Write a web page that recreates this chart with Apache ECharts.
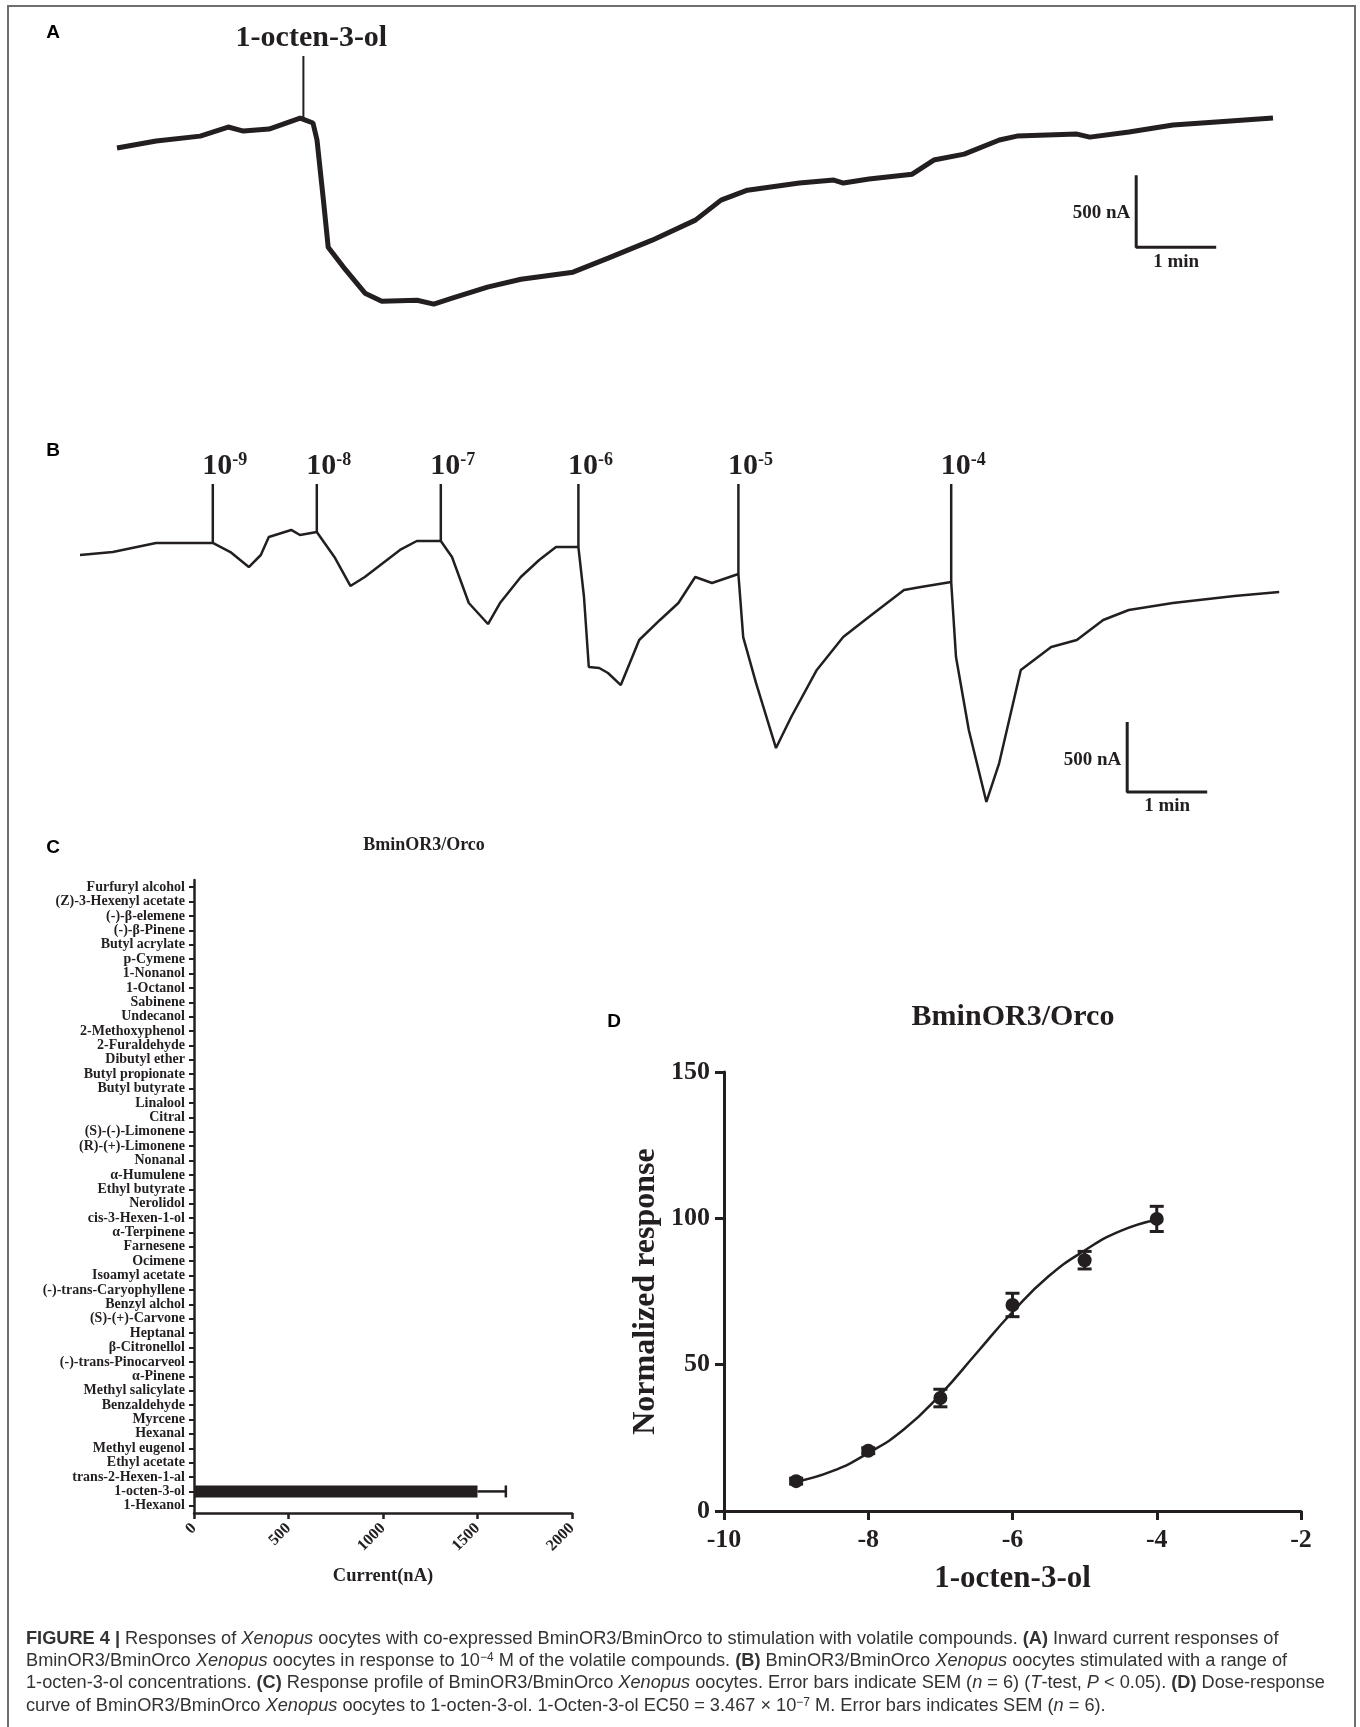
<!DOCTYPE html>
<html>
<head>
<meta charset="utf-8">
<title>Figure 4</title>
<script src="https://cdn.jsdelivr.net/npm/echarts@6/dist/echarts.min.js"></script>
<style>
  html, body { margin: 0; padding: 0; background: #fff; }
  #main { width: 1360px; height: 1727px; }
</style>
</head>
<body>
<div id="main"></div>
<script>
// ---- data ----
// A: trace (time in min, current in nA relative to start)
var timeA = [0, 0.49, 1.04, 1.39, 1.58, 1.90, 2.29, 2.45, 2.50, 2.58, 2.64, 2.83, 3.10, 3.31, 3.75, 3.96, 4.19, 4.63, 5.05, 5.70, 6.14, 6.69, 7.23, 7.55, 7.88, 8.53, 8.96, 9.08, 9.40, 9.94, 10.21, 10.59, 11.03, 11.25, 12.00, 12.16, 12.65, 13.20, 13.74, 14.45];
var currentA = [0, 49, 83, 146, 118, 132, 208, 174, 56, -361, -688, -826, -1007, -1063, -1056, -1083, -1042, -965, -910, -861, -764, -639, -500, -361, -292, -243, -222, -243, -215, -181, -83, -42, 56, 83, 97, 76, 111, 160, 181, 208];
var stimA = [2.33, 208, 639];

// B: trace with a range of concentrations
var timeB = [0, 0.41, 0.95, 1.66, 1.88, 2.11, 2.26, 2.36, 2.64, 2.75, 2.96, 3.18, 3.38, 3.56, 4.00, 4.21, 4.51, 4.65, 4.86, 5.10, 5.25, 5.51, 5.74, 5.95, 6.23, 6.30, 6.36, 6.49, 6.60, 6.76, 6.99, 7.25, 7.48, 7.69, 7.90, 8.23, 8.29, 8.45, 8.70, 8.89, 9.21, 9.54, 9.86, 10.30, 10.51, 10.89, 10.95, 11.11, 11.33, 11.49, 11.76, 12.14, 12.46, 12.79, 13.11, 13.66, 14.43, 14.99];
var currentB = [0, 21, 86, 86, 21, -86, 0, 129, 179, 143, 164, -14, -221, -157, 36, 100, 100, -14, -343, -493, -343, -157, -36, 57, 57, -300, -800, -807, -843, -929, -607, -464, -343, -157, -200, -136, -586, -914, -1379, -1157, -821, -586, -443, -250, -229, -193, -729, -1250, -1764, -1486, -821, -657, -607, -464, -393, -343, -293, -264];
var stimTimesB = [1.66, 2.96, 4.51, 6.23, 8.23, 10.89];
var stimBaseB = [86, 164, 100, 57, -136, -193];
var stimTopB = 507;
var stimExpB = ['-9', '-8', '-7', '-6', '-5', '-4'];

// C: response profile
var compounds = ['Furfuryl alcohol', '(Z)-3-Hexenyl acetate', '(-)-β-elemene', '(-)-β-Pinene', 'Butyl acrylate', 'p-Cymene', '1-Nonanol', '1-Octanol', 'Sabinene', 'Undecanol', '2-Methoxyphenol', '2-Furaldehyde', 'Dibutyl ether', 'Butyl propionate', 'Butyl butyrate', 'Linalool', 'Citral', '(S)-(-)-Limonene', '(R)-(+)-Limonene', 'Nonanal', 'α-Humulene', 'Ethyl butyrate', 'Nerolidol', 'cis-3-Hexen-1-ol', 'α-Terpinene', 'Farnesene', 'Ocimene', 'Isoamyl acetate', '(-)-trans-Caryophyllene', 'Benzyl alchol', '(S)-(+)-Carvone', 'Heptanal', 'β-Citronellol', '(-)-trans-Pinocarveol', 'α-Pinene', 'Methyl salicylate', 'Benzaldehyde', 'Myrcene', 'Hexanal', 'Methyl eugenol', 'Ethyl acetate', 'trans-2-Hexen-1-al', '1-octen-3-ol', '1-Hexanol'];
var currents = [0, 0, 0, 0, 0, 0, 0, 0, 0, 0, 0, 0, 0, 0, 0, 0, 0, 0, 0, 0, 0, 0, 0, 0, 0, 0, 0, 0, 0, 0, 0, 0, 0, 0, 0, 0, 0, 0, 0, 0, 0, 0, 1500, 0];
var currentSem = [0, 0, 0, 0, 0, 0, 0, 0, 0, 0, 0, 0, 0, 0, 0, 0, 0, 0, 0, 0, 0, 0, 0, 0, 0, 0, 0, 0, 0, 0, 0, 0, 0, 0, 0, 0, 0, 0, 0, 0, 0, 0, 150, 0];
var currentTicks = [0, 500, 1000, 1500, 2000];

// D: dose-response
var logConc = [-9, -8, -7, -6, -5, -4];
var response = [10.2, 20.6, 38.6, 70.4, 85.7, 99.8];
var responseSem = [1, 1, 3, 4, 3, 4.3];
var fitX = [-9, -8.5, -8, -7.5, -7, -6.5, -6, -5.5, -5, -4.5, -4];
var fitY = [10.0, 13.6, 19.8, 28.0, 39.8, 53.9, 68.0, 80.2, 89.0, 95.7, 99.5];

// ---- styling helpers ----
var ink = '#231f20';
var serif = '"Liberation Serif", "Times New Roman", serif';
var sans = '"Liberation Sans", Arial, sans-serif';

function zip(a, b) {
  var out = [];
  for (var i = 0; i < a.length; i++) out.push([a[i], b[i]]);
  return out;
}

function vSegment(params, api) {
  var p1 = api.coord([api.value(0), api.value(1)]);
  var p2 = api.coord([api.value(0), api.value(2)]);
  return {
    type: 'line',
    shape: { x1: p1[0], y1: p1[1], x2: p2[0], y2: p2[1] },
    style: { stroke: ink, lineWidth: api.value(3) || 2 }
  };
}

function vErrBar(params, api) {
  var x = api.value(0);
  var hi = api.coord([x, api.value(1) + api.value(2)]);
  var lo = api.coord([x, api.value(1) - api.value(2)]);
  var w = 7;
  var st = { stroke: ink, lineWidth: 3 };
  return { type: 'group', children: [
    { type: 'line', shape: { x1: hi[0], y1: hi[1], x2: lo[0], y2: lo[1] }, style: st },
    { type: 'line', shape: { x1: hi[0] - w, y1: hi[1], x2: hi[0] + w, y2: hi[1] }, style: st },
    { type: 'line', shape: { x1: lo[0] - w, y1: lo[1], x2: lo[0] + w, y2: lo[1] }, style: st }
  ]};
}

function hErrBar(params, api) {
  var c = api.value(0);
  if (!api.value(2)) return null;
  var a = api.coord([api.value(1), c]);
  var b = api.coord([api.value(1) + api.value(2), c]);
  var h = 6;
  var st = { stroke: ink, lineWidth: 2.5 };
  return { type: 'group', children: [
    { type: 'line', shape: { x1: a[0], y1: a[1], x2: b[0], y2: b[1] }, style: st },
    { type: 'line', shape: { x1: b[0], y1: b[1] - h, x2: b[0], y2: b[1] + h }, style: st }
  ]};
}

var stimBData = [], stimBLabels = [];
for (var i = 0; i < stimTimesB.length; i++) {
  stimBData.push([stimTimesB[i], stimBaseB[i], stimTopB, 2.5]);
  stimBLabels.push({ value: [stimTimesB[i], stimTopB], exp: stimExpB[i] });
}

var semC = [];
for (var j = 0; j < compounds.length; j++) semC.push([j, currents[j], currentSem[j]]);
var semD = [];
for (var k = 0; k < logConc.length; k++) semD.push([logConc[k], response[k], responseSem[k]]);

var scaleLabel = { fontFamily: serif, fontWeight: 'bold', fontSize: 19, color: ink };

// caption lines
var capFill = '#333';
var capRich = {
  n: { fontFamily: sans, fontSize: 18.2, color: capFill },
  b: { fontFamily: sans, fontSize: 18.2, fontWeight: 'bold', color: capFill },
  i: { fontFamily: sans, fontSize: 18.2, fontStyle: 'italic', color: capFill },
  s: { fontFamily: sans, fontSize: 12, color: capFill, verticalAlign: 'top' }
};
var captionLines = [
  '{b|FIGURE 4 |}{n| Responses of }{i|Xenopus}{n| oocytes with co-expressed BminOR3/BminOrco to stimulation with volatile compounds. }{b|(A)}{n| Inward current responses of}',
  '{n|BminOR3/BminOrco }{i|Xenopus}{n| oocytes in response to 10}{s|−4}{n| M of the volatile compounds. }{b|(B)}{n| BminOR3/BminOrco }{i|Xenopus}{n| oocytes stimulated with a range of}',
  '{n|1-octen-3-ol concentrations. }{b|(C)}{n| Response profile of BminOR3/BminOrco }{i|Xenopus}{n| oocytes. Error bars indicate SEM (}{i|n}{n| = 6) (}{i|T}{n|-test, }{i|P}{n| < 0.05). }{b|(D)}{n| Dose-response}',
  '{n|curve of BminOR3/BminOrco }{i|Xenopus}{n| oocytes to 1-octen-3-ol. 1-Octen-3-ol EC50 = 3.467 × 10}{s|−7}{n| M. Error bars indicates SEM (}{i|n}{n| = 6).}'
];
var captionY = [1639, 1661, 1683, 1706];

var graphics = [
  { type: 'polyline', shape: { points: [[8, 1727], [8, 6], [1355, 6], [1355, 1727]] },
    style: { stroke: '#6d6e71', lineWidth: 2, fill: null } },
  { type: 'text', x: 53, y: 33, style: { text: 'A', font: 'bold 19px ' + sans, fill: '#000', textAlign: 'center', textVerticalAlign: 'middle' } },
  { type: 'text', x: 53, y: 451, style: { text: 'B', font: 'bold 19px ' + sans, fill: '#000', textAlign: 'center', textVerticalAlign: 'middle' } },
  { type: 'text', x: 53, y: 848, style: { text: 'C', font: 'bold 19px ' + sans, fill: '#000', textAlign: 'center', textVerticalAlign: 'middle' } },
  { type: 'text', x: 614, y: 1022, style: { text: 'D', font: 'bold 19px ' + sans, fill: '#000', textAlign: 'center', textVerticalAlign: 'middle' } },
  { type: 'text', x: 424, y: 845, style: { text: 'BminOR3/Orco', font: 'bold 18px ' + serif, fill: ink, textAlign: 'center', textVerticalAlign: 'middle' } },
  { type: 'text', x: 1013, y: 1017, style: { text: 'BminOR3/Orco', font: 'bold 30px ' + serif, fill: ink, textAlign: 'center', textVerticalAlign: 'middle' } }
];
captionLines.forEach(function (t, idx) {
  graphics.push({ type: 'text', x: 26, y: captionY[idx],
    style: { text: t, rich: capRich, font: '18.2px ' + sans, fill: capFill, textVerticalAlign: 'middle' } });
});

var myChart = echarts.init(document.getElementById('main'));

var option = {
  animation: false,
  backgroundColor: '#fff',
  graphic: graphics,
  grid: [
    { left: 117, top: 40, width: 1156, height: 281 },
    { left: 80, top: 443, width: 1200, height: 378 },
    { left: 194, top: 880, width: 378, height: 633 },
    { left: 724, top: 1072, width: 577, height: 439 }
  ],
  xAxis: [
    { gridIndex: 0, type: 'value', min: 0, max: 14.45, show: false },
    { gridIndex: 1, type: 'value', min: 0, max: 15, show: false },
    { gridIndex: 2, type: 'value', min: currentTicks[0], max: currentTicks[currentTicks.length - 1], interval: 500,
      splitLine: { show: false },
      axisLine: { show: true, lineStyle: { color: ink, width: 2.5 } },
      axisTick: { show: true, length: 6, lineStyle: { color: ink, width: 2.5 } },
      axisLabel: { rotate: 45, margin: 13, fontFamily: serif, fontWeight: 'bold', fontSize: 16, color: ink,
        formatter: function (v) { return String(v); } },
      name: 'Current(nA)', nameLocation: 'middle', nameGap: 54,
      nameTextStyle: { fontFamily: serif, fontWeight: 'bold', fontSize: 18.5, color: ink } },
    { gridIndex: 3, type: 'value', min: -10, max: -2, interval: 2,
      splitLine: { show: false },
      axisLine: { show: true, lineStyle: { color: ink, width: 3 } },
      axisTick: { show: true, length: 9, lineStyle: { color: ink, width: 3 } },
      axisLabel: { margin: 16, fontFamily: serif, fontWeight: 'bold', fontSize: 26, color: ink },
      name: '1-octen-3-ol', nameLocation: 'middle', nameGap: 52,
      nameTextStyle: { fontFamily: serif, fontWeight: 'bold', fontSize: 31, color: ink } }
  ],
  yAxis: [
    { gridIndex: 0, type: 'value', min: -1200, max: 750, show: false },
    { gridIndex: 1, type: 'value', min: -1900, max: 800, show: false },
    { gridIndex: 2, type: 'category', data: compounds, inverse: true,
      axisLine: { show: true, lineStyle: { color: ink, width: 2.5 } },
      axisTick: { show: true, alignWithLabel: true, interval: 0, length: 5, lineStyle: { color: ink, width: 2 } },
      axisLabel: { interval: 0, margin: 9, fontFamily: serif, fontWeight: 'bold', fontSize: 14, color: ink } },
    { gridIndex: 3, type: 'value', min: 0, max: 150, interval: 50,
      splitLine: { show: false },
      axisLine: { show: true, lineStyle: { color: ink, width: 3 } },
      axisTick: { show: true, length: 9, lineStyle: { color: ink, width: 3 } },
      axisLabel: { margin: 14, fontFamily: serif, fontWeight: 'bold', fontSize: 26, color: ink },
      name: 'Normalized response', nameLocation: 'middle', nameGap: 62,
      nameTextStyle: { fontFamily: serif, fontWeight: 'bold', fontSize: 32, color: ink } }
  ],
  series: [
    // A
    { type: 'line', xAxisIndex: 0, yAxisIndex: 0, data: zip(timeA, currentA), symbol: 'none',
      lineStyle: { color: ink, width: 5 } },
    { type: 'custom', xAxisIndex: 0, yAxisIndex: 0, renderItem: vSegment,
      data: [[stimA[0], stimA[1], stimA[2], 2]] },
    { type: 'scatter', xAxisIndex: 0, yAxisIndex: 0, symbolSize: 0, itemStyle: { opacity: 1 },
      data: [[stimA[0], stimA[2]]],
      label: { show: true, position: 'top', distance: 3, offset: [8, 0], formatter: '1-octen-3-ol',
        fontFamily: serif, fontWeight: 'bold', fontSize: 30, color: ink } },
    { type: 'line', xAxisIndex: 0, yAxisIndex: 0, symbol: 'none',
      data: [[12.74, -188], [12.74, -688], [13.74, -688]],
      lineStyle: { color: ink, width: 3 } },
    { type: 'scatter', xAxisIndex: 0, yAxisIndex: 0, symbolSize: 0, itemStyle: { opacity: 1 },
      data: [
        { value: [12.74, -450], label: Object.assign({ show: true, position: 'left', distance: 6, formatter: '500 nA' }, scaleLabel) },
        { value: [13.24, -688], label: Object.assign({ show: true, position: 'bottom', distance: 5, formatter: '1 min' }, scaleLabel) }
      ] },
    // B
    { type: 'line', xAxisIndex: 1, yAxisIndex: 1, data: zip(timeB, currentB), symbol: 'none',
      lineStyle: { color: ink, width: 2.5 } },
    { type: 'custom', xAxisIndex: 1, yAxisIndex: 1, renderItem: vSegment, data: stimBData },
    { type: 'scatter', xAxisIndex: 1, yAxisIndex: 1, symbolSize: 0, itemStyle: { opacity: 1 }, data: stimBLabels,
      label: { show: true, position: 'top', distance: 3, offset: [12, 0],
        formatter: function (p) { return '{a|10}{s|' + p.data.exp + '}'; },
        rich: {
          a: { fontFamily: serif, fontWeight: 'bold', fontSize: 30, color: ink },
          s: { fontFamily: serif, fontWeight: 'bold', fontSize: 18, color: ink, verticalAlign: 'top' }
        } } },
    { type: 'line', xAxisIndex: 1, yAxisIndex: 1, symbol: 'none',
      data: [[13.09, -1193], [13.09, -1693], [14.09, -1693]],
      lineStyle: { color: ink, width: 3 } },
    { type: 'scatter', xAxisIndex: 1, yAxisIndex: 1, symbolSize: 0, itemStyle: { opacity: 1 },
      data: [
        { value: [13.09, -1464], label: Object.assign({ show: true, position: 'left', distance: 6, formatter: '500 nA' }, scaleLabel) },
        { value: [13.59, -1693], label: Object.assign({ show: true, position: 'bottom', distance: 5, formatter: '1 min' }, scaleLabel) }
      ] },
    // C
    { type: 'custom', xAxisIndex: 2, yAxisIndex: 2, renderItem: hErrBar, data: semC, z: 3 },
    { type: 'bar', xAxisIndex: 2, yAxisIndex: 2, data: currents, barWidth: 12,
      itemStyle: { color: ink }, z: 2 },
    // D
    { type: 'line', xAxisIndex: 3, yAxisIndex: 3, data: zip(fitX, fitY), smooth: true, symbol: 'none',
      lineStyle: { color: ink, width: 2.5 } },
    { type: 'custom', xAxisIndex: 3, yAxisIndex: 3, renderItem: vErrBar, data: semD },
    { type: 'scatter', xAxisIndex: 3, yAxisIndex: 3, data: zip(logConc, response), symbolSize: 14,
      itemStyle: { color: ink, opacity: 1 } }
  ]
};

myChart.setOption(option);
</script>
</body>
</html>
